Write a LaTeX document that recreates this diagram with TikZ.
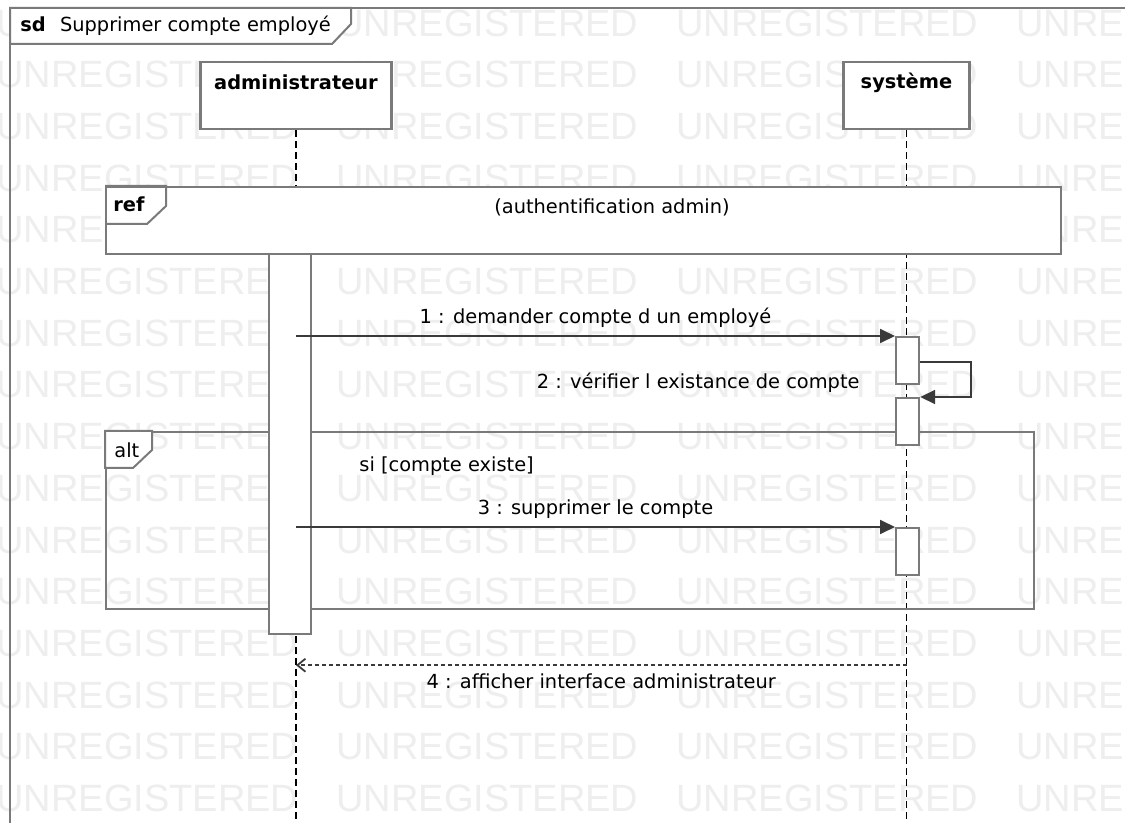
\documentclass[tikz,border=0pt]{standalone}
\usepackage{fontspec}
\setmainfont{DejaVu Sans}
\newfontfamily\wmfont{Liberation Sans}
\usepackage{xcolor}
\usepackage{tikz}
\usetikzlibrary{positioning}
\usetikzlibrary{arrows.meta}

\definecolor{framegray}{HTML}{7A7A7A}
\definecolor{msggray}{HTML}{3A3A3A}
\definecolor{wmgray}{HTML}{EEEEEE}

\tikzset{
  frameline/.style={draw=framegray, line width=1pt},
  actor/.style={draw=framegray, line width=1.3pt, fill=white, inner sep=0pt},
  actorname/.style={font=\fontsize{9.7}{12}\selectfont\bfseries, inner sep=0pt},
  activation/.style={draw=framegray, line width=1.1pt, fill=white, inner sep=0pt,
    minimum width=11.5pt, minimum height=23.5pt, anchor=north west},
  lifeline/.style={draw=black, line width=0.8pt, dash pattern=on 3.5pt off 2pt},
  call/.style={draw=msggray, line width=0.9pt, -{Triangle[length=7.5pt,width=7pt]}},
  reply/.style={draw=msggray, line width=0.9pt, dash pattern=on 2pt off 1.5pt,
    -{Straight Barb[length=4pt,width=6.5pt]}},
  msglabel/.style={inner sep=0pt},
  watermark/.style={text=wmgray, font=\wmfont\fontsize{19}{20}\selectfont,
    inner sep=0pt, anchor=west}
}

\begin{document}
\begin{tikzpicture}[x=0.5pt, y=-0.5pt, font=\fontsize{9.7}{12}\selectfont]
  \useasboundingbox (0,0) rectangle (1125,823);
  \clip (0,0) rectangle (1125,823);
  \fill[white] (0,0) rectangle (1125,823);

  % watermark
  \foreach \r in {0,...,15}
    \foreach \c in {0,...,3}
      \node[watermark] (wm\r\c) at (\c*340-4, 23+\r*51.7) {UNREGISTERED};

  % sd frame
  \draw[frameline] (1130,8) -- (10,8) -- (10,830);
  \draw[frameline, fill=white] (10,8) -- (351,8) -- (351,24) -- (332,44) -- (10,44) -- cycle;
  \node[anchor=west, inner sep=0pt] (sdtitle) at (20,26)
    {\textbf{sd}\hspace{4pt} Supprimer compte employé};

  % participants
  \node[actor, minimum width=95.5pt, minimum height=33.5pt] (admin) at (296,95.5) {};
  \node[actorname] (adminname) at ([yshift=-11pt]admin.north) {administrateur};
  \node[actor, minimum width=63pt, minimum height=33.5pt] (sys) at (906.5,95.5) {};
  \node[actorname] (sysname) at ([yshift=-11pt]sys.north) {système};

  \coordinate (bottom) at (0,830);
  \draw[lifeline] (admin.south) -- (admin.south |- bottom);
  \draw[lifeline] (sys.south) -- (sys.south |- bottom);

  % ref
  \node[draw=framegray, line width=1pt, fill=white, inner sep=0pt, anchor=north west,
    minimum width=477.5pt, minimum height=33.5pt] (ref) at (105,186) {};
  \draw[frameline] (ref.north west) -- ++(61,0) -- ++(0,20) -- ++(-19,18) -- ++(-42,0);
  \node[anchor=west, inner sep=0pt, font=\fontsize{9.7}{12}\selectfont\bfseries] (reftag) at (113,204) {ref};
  \node[inner sep=0pt] (reftext) at (612,207) {(authentification admin)};

  % alt
  \node[draw=framegray, line width=1pt, inner sep=0pt, anchor=north west,
    minimum width=464pt, minimum height=88.5pt] (alt) at (105,431) {};
  \draw[frameline, fill=white] (alt.north west) -- ++(47,0) -- ++(0,19) -- ++(-19,18) -- ++(-28,0) -- cycle;
  \node[anchor=west, inner sep=0pt] (alttag) at (114,450) {alt};
  \node[anchor=west, inner sep=0pt] (guard) at (359,466) {si [compte existe]};

  % activations
  \node[activation, minimum width=21pt, minimum height=190pt] (actA) at (268,253) {};
  \node[activation] (act1) at (895,336) {};
  \node[activation] (act2) at (895,397) {};
  \node[activation] (act3) at (895,527) {};

  % messages
  \draw[call] (admin.south |- act1.north west) -- (act1.north west)
    node[msglabel, midway, above=4pt] (lbl1) {1 : demander compte d un employé};
  \draw[call] ([yshift=-13pt]act1.north east) -| ([xshift=25.5pt]act2.north east) -- (act2.north east);
  \node[msglabel, anchor=east] (lbl2) at (860,383) {2 : vérifier l existance de compte};
  \draw[call] (admin.south |- act3.north west) -- (act3.north west)
    node[msglabel, midway, above=4pt] (lbl3) {3 : supprimer le compte};
  \coordinate (ret) at ([yshift=-15pt]actA.south -| sys.south);
  \draw[reply] (ret) -- (ret -| admin.south)
    node[msglabel, midway, below=4pt] (lbl4) {4 : afficher interface administrateur};
\end{tikzpicture}
\end{document}
